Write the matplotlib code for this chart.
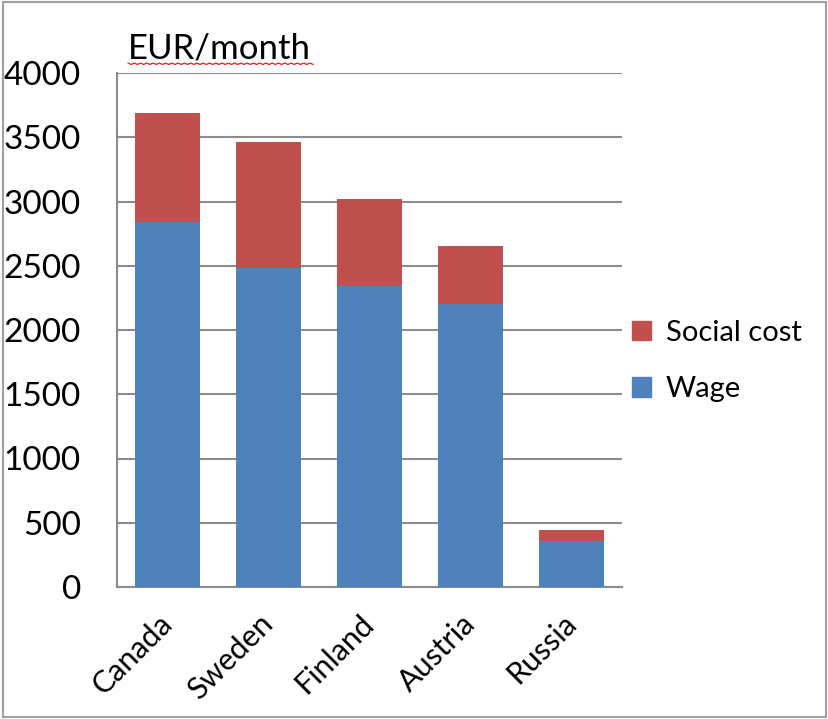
import matplotlib
matplotlib.use("Agg")
import matplotlib.pyplot as plt
import numpy as np
from matplotlib.patches import Rectangle
from matplotlib.lines import Line2D
from matplotlib.transforms import ScaledTranslation

countries = ["Canada", "Sweden", "Finland", "Austria", "Russia"]
wage = [2840, 2480, 2340, 2200, 360]
social_cost = [850, 980, 680, 450, 85]
yticks = [0, 500, 1000, 1500, 2000, 2500, 3000, 3500, 4000]

blue = "#4F81BD"
red = "#C0504D"
grid = "#8C8C8C"

plt.rcParams['font.family'] = ['Lato', 'DejaVu Sans']

fig = plt.figure(figsize=(8.29, 7.19), dpi=100)
W, H = 829, 719
ax = fig.add_axes([117 / W, 1 - 587 / H, (622 - 117) / W, (587 - 73) / H])

x = np.arange(len(countries))
ax.bar(x, wage, width=0.64, color=blue, label="Wage", zorder=3)
ax.bar(x, social_cost, bottom=wage, width=0.64, color=red, label="Social cost", zorder=3)

ax.set_xlim(-0.5, len(countries) - 0.5)
ax.set_ylim(0, 4000)
ax.set_yticks(yticks)
ax.set_yticklabels([str(v) for v in yticks], fontsize=24)
ax.yaxis.grid(True, color=grid, linewidth=1.5, zorder=0)
ax.set_axisbelow(True)
for s in ["top", "right"]:
    ax.spines[s].set_visible(False)
for s in ["left", "bottom"]:
    ax.spines[s].set_color(grid)
    ax.spines[s].set_linewidth(1.5)
ax.tick_params(axis="y", length=0, pad=26)
ax.tick_params(axis="x", length=0, pad=16)
ax.set_xticks(x)
ax.set_xticklabels(countries, rotation=45, ha="right", rotation_mode="anchor", fontsize=22)
offset = ScaledTranslation(-10 / 100, 0, fig.dpi_scale_trans)
for lbl in ax.get_xticklabels():
    lbl.set_transform(lbl.get_transform() + offset)

handles = [Rectangle((0, 0), 1, 1, color=red), Rectangle((0, 0), 1, 1, color=blue)]
fig.legend(handles, ["Social cost", "Wage"], loc="center left",
           bbox_to_anchor=(632 / W, 1 - 361 / H), frameon=False, fontsize=21,
           handlelength=0.65, handleheight=0.65, handletextpad=0.5, labelspacing=1.05,
           borderpad=0, borderaxespad=0)

fig.text(128 / W, 1 - 58 / H, "EUR/month", fontsize=25, ha="left", va="baseline")
# spell-check squiggle
sx = np.linspace(128, 313, 60)
sy = 63 + 1.5 * (np.arange(60) % 2)
fig.add_artist(Line2D(sx / W, 1 - sy / H, color="red", linewidth=0.8))

fig.add_artist(Rectangle((3 / W, 2 / H), (826 - 3) / W, (717 - 2) / H, fill=False,
                         edgecolor="#A0A0A0", linewidth=1.5, transform=fig.transFigure))

fig.savefig("out.png", dpi=100)
